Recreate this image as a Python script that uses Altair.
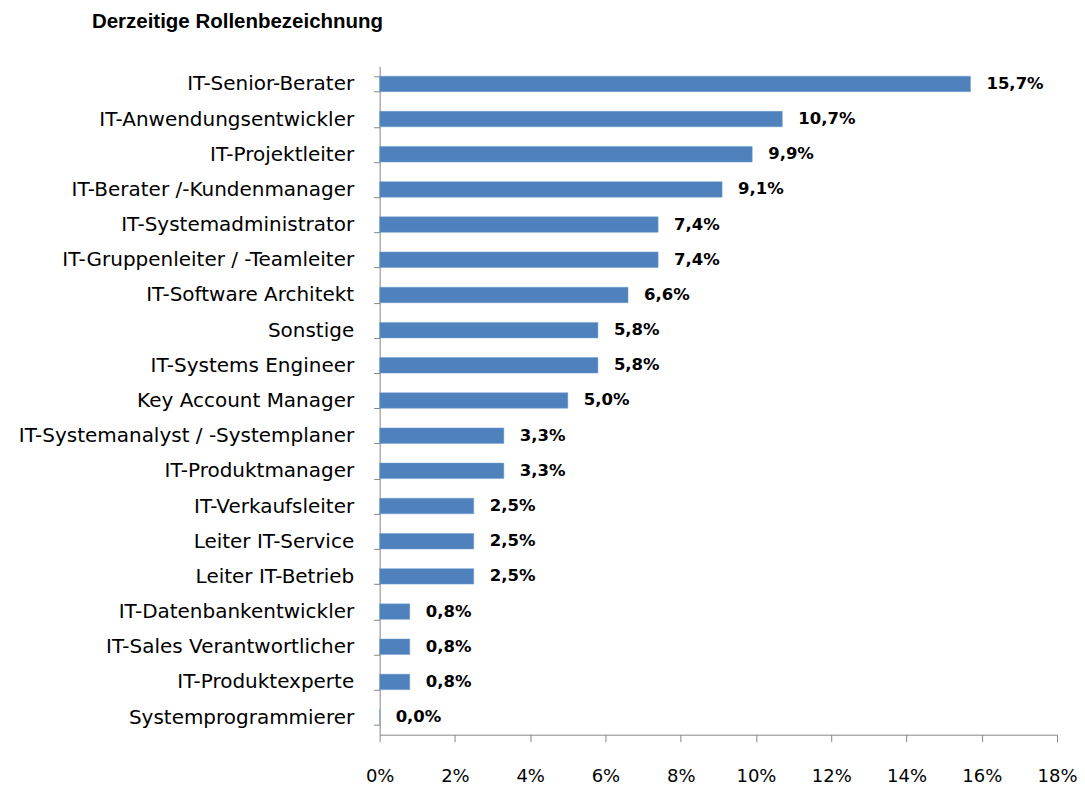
import altair as alt
import pandas as pd

categories = [
    "IT-Senior-Berater",
    "IT-Anwendungsentwickler",
    "IT-Projektleiter",
    "IT-Berater /-Kundenmanager",
    "IT-Systemadministrator",
    "IT-Gruppenleiter / -Teamleiter",
    "IT-Software  Architekt",
    "Sonstige",
    "IT-Systems  Engineer",
    "Key Account Manager",
    "IT-Systemanalyst  / -Systemplaner",
    "IT-Produktmanager",
    "IT-Verkaufsleiter",
    "Leiter IT-Service",
    "Leiter IT-Betrieb",
    "IT-Datenbankentwickler",
    "IT-Sales Verantwortlicher",
    "IT-Produktexperte",
    "Systemprogrammierer",
]
values = [15.7, 10.7, 9.9, 9.1, 7.4, 7.4, 6.6, 5.8, 5.8, 5.0, 3.3, 3.3, 2.5, 2.5, 2.5, 0.8, 0.8, 0.8, 0.0]
x_ticks = [0, 2, 4, 6, 8, 10, 12, 14, 16, 18]

df = pd.DataFrame({"Rolle": categories, "Anteil": values})
df["Label"] = [f"{v:.1f}%".replace(".", ",") for v in values]

FONT = "DejaVu Sans"

y_enc = alt.Y(
    "Rolle:N",
    sort=categories,
    title=None,
    scale=alt.Scale(paddingInner=0.56, paddingOuter=0.28),
    axis=alt.Axis(
        tickBand="extent",
        tickSize=6,
        tickColor="#868686",
        domainColor="#868686",
        labelFont=FONT,
        labelFontSize=20,
        labelColor="#000000",
        labelPadding=20,
        labelLimit=400,
    ),
)

x_enc = alt.X(
    "Anteil:Q",
    title=None,
    scale=alt.Scale(domain=[0, 18], nice=False),
    axis=alt.Axis(
        values=x_ticks,
        labelExpr="datum.value + '%'",
        labelFlush=False,
        tickSize=7,
        tickColor="#868686",
        domainColor="#868686",
        grid=False,
        labelFont=FONT,
        labelFontSize=18,
        labelColor="#000000",
        labelPadding=26,
    ),
)

bars = alt.Chart(df).mark_bar(color="#4F81BD", stroke="#6f9bd0", strokeWidth=0.5).encode(
    y=y_enc, x=x_enc
)

labels = alt.Chart(df).mark_text(
    align="left", baseline="middle", dx=16, font=FONT, fontSize=16.5, fontWeight="bold", color="#000000"
).encode(y=alt.Y("Rolle:N", sort=categories), x="Anteil:Q", text="Label:N")

chart = (
    alt.layer(bars, labels)
    .properties(
        width=678,
        height=669,
        padding={"left": 372, "top": 58, "right": 20, "bottom": 52},
        autosize=alt.AutoSizeParams(type="none"),
        title=alt.TitleParams(
            "Derzeitige Rollenbezeichnung",
            anchor="start",
            frame="group",
            dx=-288,
            offset=24,
            font="Liberation Sans",
            fontSize=20.5,
            fontWeight="bold",
            color="#000000",
        ),
    )
    .configure_view(stroke=None)
)

chart.save("out.html", embed_options={"renderer": "svg", "actions": False})
